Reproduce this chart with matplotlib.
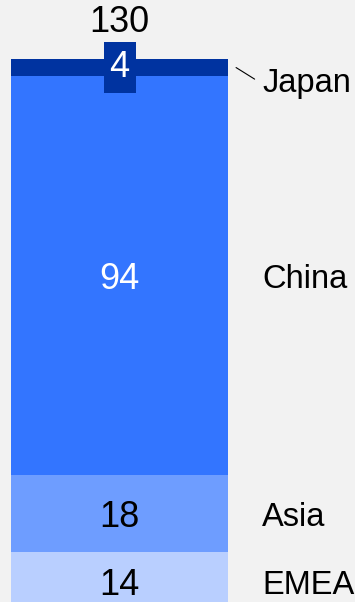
import matplotlib.pyplot as plt
from matplotlib.path import Path

plt.rcParams['font.family'] = ['Liberation Sans', 'DejaVu Sans']

# Regional split, stacked from the bottom up
regions = ['EMEA', 'Asia', 'China', 'Japan']
values = [14, 18, 94, 4]
colors = ['#b9cfff', '#6e9dff', '#3375ff', '#0033a0']
value_colors = ['black', 'black', 'white', 'white']


def tag_box(x0, y0, width, height, mutation_size):
    # square box, a bit more padding top/bottom than at the sides
    px, py = 0.164 * mutation_size, 0.233 * mutation_size
    x0, y0 = x0 - px, y0 - py
    x1, y1 = x0 + width + 2 * px, y0 + height + 2 * py
    return Path([(x0, y0), (x1, y0), (x1, y1), (x0, y1), (x0, y0)], closed=True)


fig = plt.figure(figsize=(3.55, 6.02), dpi=100, facecolor='#f2f2f2')
ax = fig.add_axes([0, 0, 1, 1])
ax.set_facecolor('#f2f2f2')

num_fs = 26
lab_fs = 23.5
bottom = 0
for name, val, col, tcol in zip(regions, values, colors, value_colors):
    ax.bar(0, val, width=1, bottom=bottom, color=col, linewidth=0)
    mid = bottom + val / 2
    if name == 'Japan':
        # segment too thin: put its number in a small box and pull the name out with a leader
        t = ax.text(0, mid, str(val), ha='center', va='center', fontsize=num_fs, color=tcol,
                    bbox=dict(boxstyle=tag_box, fc=col, ec='none'))
        ax.annotate(name, xy=(0.537, mid), xytext=(0.657, mid - 3.0),
                    ha='left', va='center_baseline', fontsize=lab_fs,
                    arrowprops=dict(arrowstyle='-', color='black', lw=0.8,
                                    shrinkA=4, shrinkB=0, relpos=(0, 0.5)))
    else:
        ax.text(0, mid, str(val), ha='center', va='center_baseline', fontsize=num_fs, color=tcol)
        ax.text(0.657, mid, name, ha='left', va='center_baseline', fontsize=lab_fs)
    bottom += val

total = sum(values)
ax.annotate(str(total), xy=(0, total), xytext=(0, 29), textcoords='offset points',
            ha='center', va='center_baseline', fontsize=num_fs)

ax.set_xlim(-0.5507, 1.085)
ax.set_ylim(2.2, 143.9)
ax.axis('off')

fig.savefig('out.png', dpi=100, facecolor=fig.get_facecolor())
